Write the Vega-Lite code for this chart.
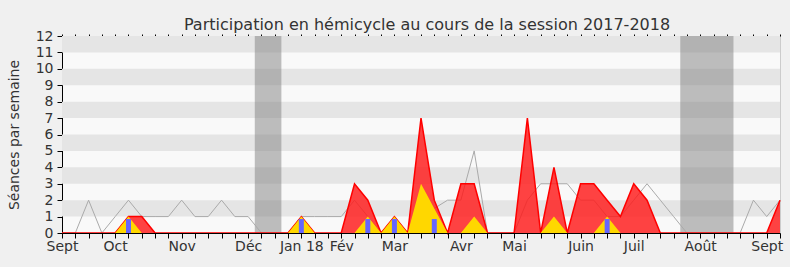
{
  "$schema": "https://vega.github.io/schema/vega-lite/v6.json",
  "autosize": "none",
  "width": 718,
  "height": 197,
  "padding": {"left": 62, "top": 36, "right": 10, "bottom": 34},
  "background": "#f0f0f0",
  "config": {
    "font": "DejaVu Sans",
    "view": {"fill": "#f9f9f9", "stroke": "#cccccc"},
    "axisY": {
      "titleFontSize": 14,
      "titleFontWeight": "normal",
      "titleColor": "#333333",
      "titlePadding": 14,
      "grid": false,
      "labelFontSize": 14,
      "labelColor": "#333333",
      "labelPadding": 4,
      "labelOverlap": false,
      "tickSize": 5,
      "tickColor": "#000000",
      "domainColor": "#000000",
      "zindex": 1
    }
  },
  "title": {
    "text": "Participation en hémicycle au cours de la session 2017-2018",
    "fontSize": 16,
    "fontWeight": "normal",
    "color": "#333333",
    "anchor": "middle",
    "dx": 6,
    "dy": 24,
    "offset": 7,
    "baseline": "alphabetic"
  },
  "resolve": {"axis": {"x": "independent"}},
  "datasets": {
    "bandes": [
      {"bas": 1, "haut": 2}, {"bas": 3, "haut": 4}, {"bas": 5, "haut": 6},
      {"bas": 7, "haut": 8}, {"bas": 9, "haut": 10}, {"bas": 11, "haut": 12}
    ],
    "vacances": [
      {"debut": 14.5, "fin": 16.5},
      {"debut": 46.5, "fin": 50.5}
    ],
    "semaines": [
      {"semaine": 0, "moyenne": 0, "presence": 0, "participation": 0, "questions": 0},
      {"semaine": 1, "moyenne": 0, "presence": 0, "participation": 0, "questions": 0},
      {"semaine": 2, "moyenne": 2, "presence": 0, "participation": 0, "questions": 0},
      {"semaine": 3, "moyenne": 0, "presence": 0, "participation": 0, "questions": 0},
      {"semaine": 4, "moyenne": 1, "presence": 0, "participation": 0, "questions": 0},
      {"semaine": 5, "moyenne": 2, "presence": 1, "participation": 1, "questions": 0.85},
      {"semaine": 6, "moyenne": 1, "presence": 1, "participation": 0, "questions": 0},
      {"semaine": 7, "moyenne": 1, "presence": 0, "participation": 0, "questions": 0},
      {"semaine": 8, "moyenne": 1, "presence": 0, "participation": 0, "questions": 0},
      {"semaine": 9, "moyenne": 2, "presence": 0, "participation": 0, "questions": 0},
      {"semaine": 10, "moyenne": 1, "presence": 0, "participation": 0, "questions": 0},
      {"semaine": 11, "moyenne": 1, "presence": 0, "participation": 0, "questions": 0},
      {"semaine": 12, "moyenne": 2, "presence": 0, "participation": 0, "questions": 0},
      {"semaine": 13, "moyenne": 1, "presence": 0, "participation": 0, "questions": 0},
      {"semaine": 14, "moyenne": 1, "presence": 0, "participation": 0, "questions": 0},
      {"semaine": 15, "moyenne": 0, "presence": 0, "participation": 0, "questions": 0},
      {"semaine": 16, "moyenne": 0, "presence": 0, "participation": 0, "questions": 0},
      {"semaine": 17, "moyenne": 0, "presence": 0, "participation": 0, "questions": 0},
      {"semaine": 18, "moyenne": 1, "presence": 1, "participation": 1, "questions": 0.85},
      {"semaine": 19, "moyenne": 1, "presence": 0, "participation": 0, "questions": 0},
      {"semaine": 20, "moyenne": 1, "presence": 0, "participation": 0, "questions": 0},
      {"semaine": 21, "moyenne": 1, "presence": 0, "participation": 0, "questions": 0},
      {"semaine": 22, "moyenne": 2, "presence": 3, "participation": 0, "questions": 0},
      {"semaine": 23, "moyenne": 1, "presence": 2, "participation": 1, "questions": 0.85},
      {"semaine": 24, "moyenne": 0, "presence": 0, "participation": 0, "questions": 0},
      {"semaine": 25, "moyenne": 1, "presence": 1, "participation": 1, "questions": 0.85},
      {"semaine": 26, "moyenne": 0, "presence": 0, "participation": 0, "questions": 0},
      {"semaine": 27, "moyenne": 1, "presence": 7, "participation": 3, "questions": 0},
      {"semaine": 28, "moyenne": 1.5, "presence": 2, "participation": 1.5, "questions": 0.85},
      {"semaine": 29, "moyenne": 2, "presence": 0, "participation": 0, "questions": 0},
      {"semaine": 30, "moyenne": 2, "presence": 3, "participation": 0, "questions": 0},
      {"semaine": 31, "moyenne": 5, "presence": 3, "participation": 1, "questions": 0},
      {"semaine": 32, "moyenne": 0, "presence": 0, "participation": 0, "questions": 0},
      {"semaine": 33, "moyenne": 0, "presence": 0, "participation": 0, "questions": 0},
      {"semaine": 34, "moyenne": 0, "presence": 0, "participation": 0, "questions": 0},
      {"semaine": 35, "moyenne": 2, "presence": 7, "participation": 0, "questions": 0},
      {"semaine": 36, "moyenne": 3, "presence": 0, "participation": 0, "questions": 0},
      {"semaine": 37, "moyenne": 3, "presence": 4, "participation": 1, "questions": 0},
      {"semaine": 38, "moyenne": 3, "presence": 0, "participation": 0, "questions": 0},
      {"semaine": 39, "moyenne": 2, "presence": 3, "participation": 0, "questions": 0},
      {"semaine": 40, "moyenne": 2, "presence": 3, "participation": 0, "questions": 0},
      {"semaine": 41, "moyenne": 1, "presence": 2, "participation": 1, "questions": 0.85},
      {"semaine": 42, "moyenne": 1, "presence": 1, "participation": 0, "questions": 0},
      {"semaine": 43, "moyenne": 2, "presence": 3, "participation": 0, "questions": 0},
      {"semaine": 44, "moyenne": 3, "presence": 2, "participation": 0, "questions": 0},
      {"semaine": 45, "moyenne": 2, "presence": 0, "participation": 0, "questions": 0},
      {"semaine": 46, "moyenne": 1, "presence": 0, "participation": 0, "questions": 0},
      {"semaine": 47, "moyenne": 0, "presence": 0, "participation": 0, "questions": 0},
      {"semaine": 48, "moyenne": 0, "presence": 0, "participation": 0, "questions": 0},
      {"semaine": 49, "moyenne": 0, "presence": 0, "participation": 0, "questions": 0},
      {"semaine": 50, "moyenne": 0, "presence": 0, "participation": 0, "questions": 0},
      {"semaine": 51, "moyenne": 0, "presence": 0, "participation": 0, "questions": 0},
      {"semaine": 52, "moyenne": 2, "presence": 0, "participation": 0, "questions": 0},
      {"semaine": 53, "moyenne": 1, "presence": 0, "participation": 0, "questions": 0},
      {"semaine": 54, "moyenne": 2, "presence": 2, "participation": 0, "questions": 0}
    ]
  },
  "layer": [
    {
      "data": {"name": "bandes"},
      "mark": {"type": "rect", "color": "#e5e5e5"},
      "encoding": {
        "y": {"field": "bas", "type": "quantitative", "scale": {"domain": [0, 12], "nice": false},
          "axis": {"title": "Séances par semaine", "values": [0,1,2,3,4,5,6,7,8,9,10,11,12]}},
        "y2": {"field": "haut"}
      }
    },
    {
      "data": {"name": "vacances"},
      "mark": {"type": "rect", "color": "#808080", "opacity": 0.5},
      "encoding": {
        "x": {"field": "debut", "type": "quantitative",
          "scale": {"domain": [0, 54], "nice": false, "zero": false, "padding": 0},
          "axis": {
            "orient": "top",
            "title": null,
            "grid": false,
            "labels": false,
            "domain": false,
            "values": [0,1,2,3,4,5,6,7,8,9,10,11,12,13,14,15,16,17,18,19,20,21,22,23,24,25,26,27,28,29,30,31,32,33,34,35,36,37,38,39,40,41,42,43,44,45,46,47,48,49,50,51,52,53,54],
            "tickSize": 2,
            "tickColor": "#000000"
          }},
        "x2": {"field": "fin"}
      }
    },
    {
      "data": {"name": "semaines"},
      "mark": {"type": "line", "color": "#aaaaaa", "strokeWidth": 1},
      "encoding": {
        "x": {"field": "semaine", "type": "quantitative",
          "scale": {"domain": [0, 54], "nice": false, "zero": false, "padding": 0},
          "axis": {
            "orient": "bottom",
            "title": null,
            "grid": false,
            "values": [0,1,2,3,4,5,6,7,8,9,10,11,12,13,14,15,16,17,18,19,20,21,22,23,24,25,26,27,28,29,30,31,32,33,34,35,36,37,38,39,40,41,42,43,44,45,46,47,48,49,50,51,52,53,54],
            "labelExpr": "datum.value==0?'Sept':datum.value==4?'Oct':datum.value==9?'Nov':datum.value==14?'Déc':datum.value==18?'Jan 18':datum.value==21?'Fév':datum.value==25?'Mar':datum.value==30?'Avr':datum.value==34?'Mai':datum.value==39?'Juin':datum.value==43?'Juil':datum.value==48?'Août':datum.value==53?'Sept':''",
            "labelOverlap": false,
            "labelFlush": false,
            "labelBound": false,
            "labelFontSize": 14,
            "labelColor": "#333333",
            "labelPadding": 1,
            "tickSize": 5,
            "tickColor": "#000000",
            "domainColor": "#000000",
            "zindex": 1
          }},
        "y": {"field": "moyenne", "type": "quantitative",
          "axis": {"title": "Séances par semaine", "values": [0,1,2,3,4,5,6,7,8,9,10,11,12]}}
      }
    },
    {
      "data": {"name": "semaines"},
      "mark": {"type": "area", "color": "#ff1a1a", "fillOpacity": 0.82, "line": {"color": "#ff0000", "strokeWidth": 1.5}},
      "encoding": {
        "x": {"field": "semaine", "type": "quantitative", "axis": null},
        "y": {"field": "presence", "type": "quantitative",
          "axis": {"title": "Séances par semaine", "values": [0,1,2,3,4,5,6,7,8,9,10,11,12]}}
      }
    },
    {
      "data": {"name": "semaines"},
      "mark": {"type": "area", "color": "#ffd700", "fillOpacity": 1},
      "encoding": {
        "x": {"field": "semaine", "type": "quantitative", "axis": null},
        "y": {"field": "participation", "type": "quantitative",
          "axis": {"title": "Séances par semaine", "values": [0,1,2,3,4,5,6,7,8,9,10,11,12]}}
      }
    },
    {
      "data": {"name": "semaines"},
      "transform": [{"filter": "datum.questions > 0"}],
      "mark": {"type": "bar", "color": "#6666ff", "size": 5},
      "encoding": {
        "x": {"field": "semaine", "type": "quantitative", "axis": null},
        "y": {"field": "questions", "type": "quantitative",
          "axis": {"title": "Séances par semaine", "values": [0,1,2,3,4,5,6,7,8,9,10,11,12]}}
      }
    }
  ]
}
